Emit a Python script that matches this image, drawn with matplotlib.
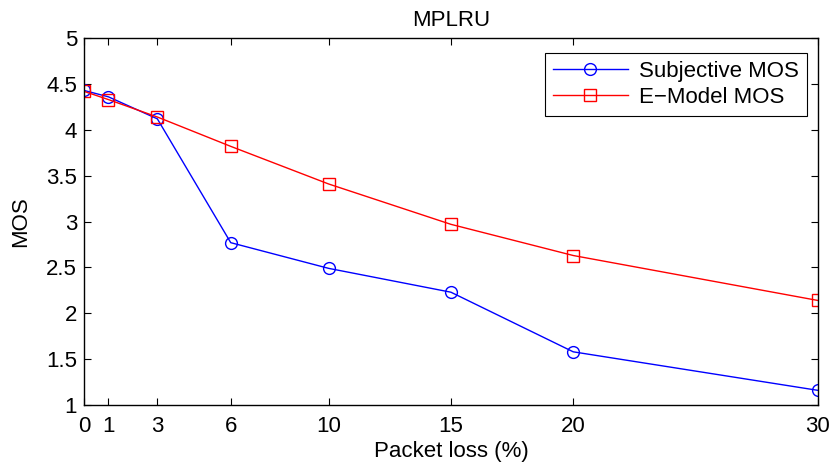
import numpy as np
import matplotlib.pyplot as plt

plt.rcParams['font.family'] = ['Liberation Sans', 'DejaVu Sans']

# packet loss (%) and MOS values
loss = [0, 1, 3, 6, 10, 15, 20, 30]
subj_mos = [4.43, 4.36, 4.12, 2.77, 2.49, 2.23, 1.58, 1.16]
emodel_mos = [4.42, 4.33, 4.14, 3.82, 3.41, 2.97, 2.63, 2.14]

fig = plt.figure(figsize=(8.33, 4.65), dpi=100)
ax = fig.add_axes([0.1008, 0.129, 0.881, 0.789])

ax.plot(loss, subj_mos, color='#0000ff', lw=1, marker='o', ms=8.5,
        mfc='none', mec='#0000ff', mew=1, label='Subjective MOS')
ax.plot(loss, emodel_mos, color='#ff0000', lw=1, marker='s', ms=8.5,
        mfc='none', mec='#ff0000', mew=1, label='E\u2212Model MOS')

ax.set_xlim(0, 30)
ax.set_ylim(1, 5)
ax.set_xticks(loss)
ax.set_yticks(np.arange(1, 5.01, 0.5))
ax.set_yticklabels(['1', '1.5', '2', '2.5', '3', '3.5', '4', '4.5', '5'])
ax.tick_params(direction='in', top=True, right=True, labelsize=16, length=5, width=0.8)
ax.tick_params(axis='x', pad=8)
ax.tick_params(axis='y', pad=5)
for s in ax.spines.values():
    s.set_linewidth(1)

ax.set_xlabel('Packet loss (%)', fontsize=16, labelpad=3)
ax.set_ylabel('MOS', fontsize=16, labelpad=11)
ax.set_title('MPLRU', fontsize=16, pad=9)

leg = ax.legend(loc='upper right', bbox_to_anchor=(0.985, 0.96), fontsize=16,
                fancybox=False, framealpha=1, edgecolor='black', borderaxespad=0,
                handlelength=3.4, labelspacing=0.25, borderpad=0.35, handletextpad=0.5)
leg.get_frame().set_linewidth(0.8)

fig.savefig('out.png', dpi=100)
